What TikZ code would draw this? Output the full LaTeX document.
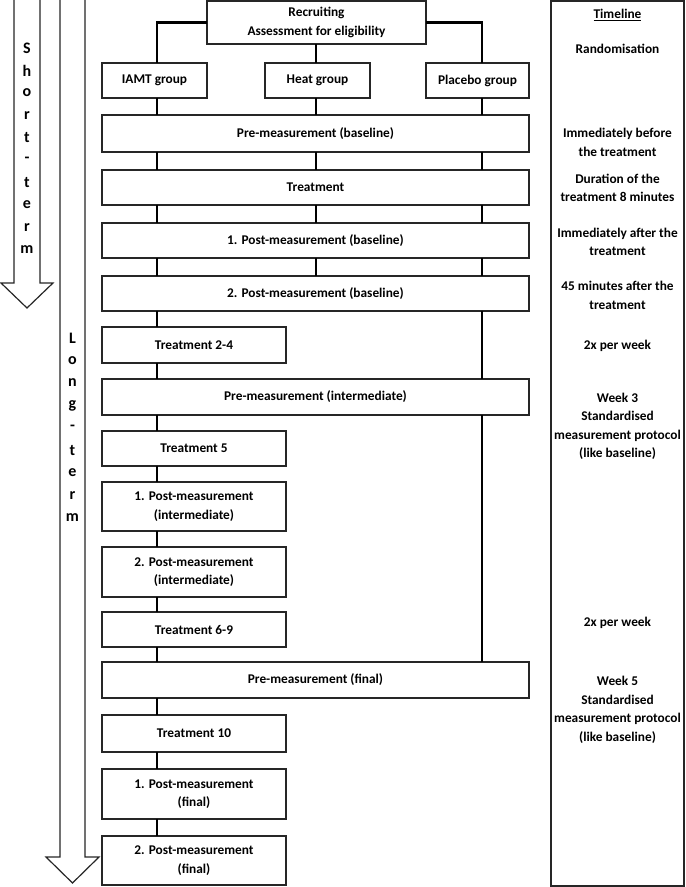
\documentclass[tikz,border=0pt]{standalone}
\usepackage{fontspec}
\setmainfont{Carlito}
\begin{document}
\begin{tikzpicture}[x=0.75pt,y=-0.75pt,
  box/.style={draw=black!85,line width=0.9pt,inner sep=0pt,outer sep=0pt,align=center,
    font=\bfseries\fontsize{10}{13.9}\selectfont},
  conn/.style={draw=black,line width=1.6pt},
  tl/.style={inner sep=0pt,align=center,font=\bfseries\fontsize{10}{13.9}\selectfont},
  vlet/.style={inner sep=0pt,font=\bfseries\fontsize{12}{14}\selectfont},
  bigarrow/.style={draw=black!85,line width=0.9pt,fill=white,line join=miter}]
\useasboundingbox (0,0) rectangle (685,887);
% big arrows
\draw[bigarrow] (14,0) -- (14,283) -- (1,283) -- (27,308) -- (53,283) -- (40,283) -- (40,0);
\draw[bigarrow] (60,0) -- (60,857) -- (46,857) -- (72.5,883) -- (99,857) -- (85,857) -- (85,0);
\foreach \c [count=\i from 0] in {S,h,o,r,t,-,t,e,r,m}
  \node[vlet] (st\i) at (27,48+22.4*\i) {\c};
\foreach \c [count=\i from 0] in {L,o,n,g,-,t,e,r,m}
  \node[vlet] (lt\i) at (72.5,338+22.5*\i) {\c};
% guide coordinates
\coordinate (L) at (157,0);
\coordinate (M) at (316,0);
\coordinate (R) at (482,0);
% boxes
\node[box,minimum width=219*0.75pt,minimum height=43*0.75pt] (rec) at (316.5,22.5) {Recruiting\\Assessment for eligibility};
\node[box,minimum width=105*0.75pt,minimum height=35*0.75pt] (iamt) at (154.5,80.5) {IAMT group};
\node[box,minimum width=105*0.75pt,minimum height=35*0.75pt] (heat) at (317.5,80.5) {Heat group};
\node[box,minimum width=103*0.75pt,minimum height=35*0.75pt] (plac) at (477.5,80.5) {Placebo group};
\node[box,minimum width=427*0.75pt,minimum height=37*0.75pt] (pre1) at (315.5,133.5) {Pre-measurement (baseline)};
\node[box,minimum width=427*0.75pt,minimum height=35*0.75pt] (trt1) at (315.5,187.5) {Treatment};
\node[box,minimum width=427*0.75pt,minimum height=35*0.75pt] (posta) at (315.5,240.5) {1. Post-measurement (baseline)};
\node[box,minimum width=427*0.75pt,minimum height=35*0.75pt] (postb) at (315.5,293.5) {2. Post-measurement (baseline)};
\node[box,minimum width=184*0.75pt,minimum height=36*0.75pt] (trt24) at (194,345) {Treatment 2-4};
\node[box,minimum width=427*0.75pt,minimum height=36*0.75pt] (pre2) at (315.5,397) {Pre-measurement (intermediate)};
\node[box,minimum width=184*0.75pt,minimum height=35*0.75pt] (trt5) at (194,448.5) {Treatment 5};
\node[box,minimum width=184*0.75pt,minimum height=49*0.75pt] (postc) at (194,506.5) {1. Post-measurement\\(intermediate)};
\node[box,minimum width=184*0.75pt,minimum height=50*0.75pt] (postd) at (194,572) {2. Post-measurement\\(intermediate)};
\node[box,minimum width=184*0.75pt,minimum height=35*0.75pt] (trt69) at (194,629.5) {Treatment 6-9};
\node[box,minimum width=427*0.75pt,minimum height=36*0.75pt] (pre3) at (315.5,680) {Pre-measurement (final)};
\node[box,minimum width=184*0.75pt,minimum height=37*0.75pt] (trt10) at (194,733.5) {Treatment 10};
\node[box,minimum width=184*0.75pt,minimum height=50*0.75pt] (poste) at (194,794) {1. Post-measurement\\(final)};
\node[box,minimum width=184*0.75pt,minimum height=49*0.75pt] (postf) at (194,860.5) {2. Post-measurement\\(final)};
% timeline
\node[box,minimum width=133*0.75pt,minimum height=885*0.75pt] (tlbox) at (617.5,443.5) {};
\node[tl] (t0) at (617.5,15) {\underline{Timeline}};
\node[tl] (t1) at (617.5,49) {Randomisation};
\node[tl] (t2) at (617.5,142.5) {Immediately before\\the treatment};
\node[tl] (t3) at (617.5,188) {Duration of the\\treatment 8 minutes};
\node[tl] (t4) at (617.5,242) {Immediately after the\\treatment};
\node[tl] (t5) at (617.5,295.5) {45 minutes after the\\treatment};
\node[tl] (t6) at (617.5,346) {2x per week};
\node[tl] (t7) at (617.5,426.5) {Week 3\\Standardised\\measurement protocol\\(like baseline)};
\node[tl] (t8) at (617.5,623) {2x per week};
\node[tl] (t9) at (617.5,710) {Week 5\\Standardised\\measurement protocol\\(like baseline)};
% connectors
\draw[conn] (rec.west) -| (L |- iamt.north);
\draw[conn] (M |- rec.south) -- (M |- heat.north);
\draw[conn] (rec.east) -| (R |- plac.north);
\foreach \a/\b in {iamt/pre1,pre1/trt1,trt1/posta,posta/postb,postb/trt24,trt24/pre2,pre2/trt5,trt5/postc,postc/postd,postd/trt69,trt69/pre3,pre3/trt10,trt10/poste,poste/postf}
  \draw[conn] (L |- \a.south) -- (L |- \b.north);
\foreach \a/\b in {heat/pre1,pre1/trt1,trt1/posta,posta/postb}
  \draw[conn] (M |- \a.south) -- (M |- \b.north);
\foreach \a/\b in {plac/pre1,pre1/trt1,trt1/posta,posta/postb,postb/pre2,pre2/pre3}
  \draw[conn] (R |- \a.south) -- (R |- \b.north);
\end{tikzpicture}
\end{document}
